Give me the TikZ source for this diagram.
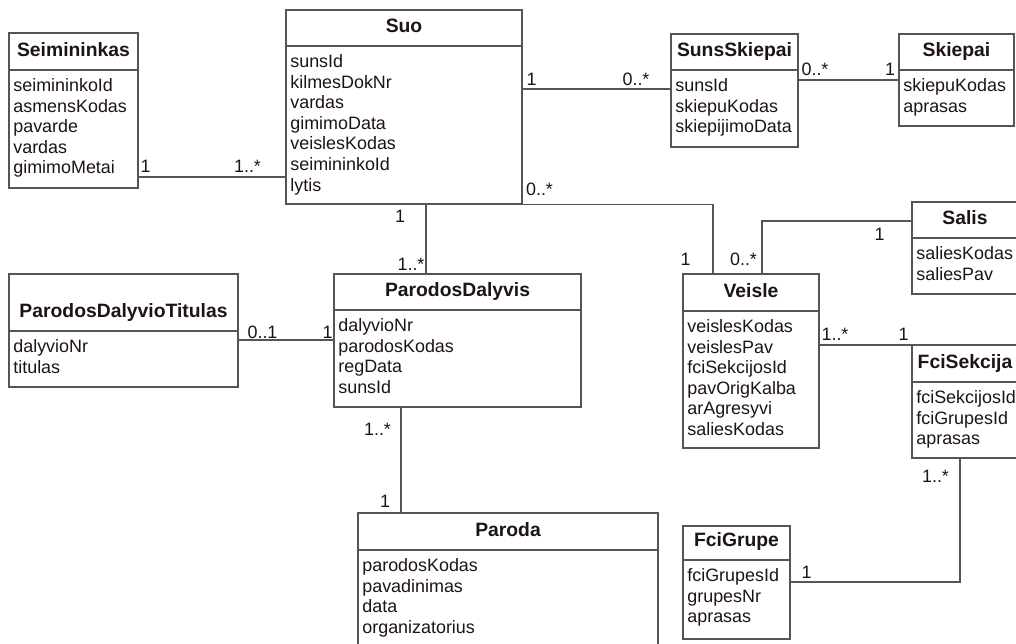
\documentclass[tikz,border=0pt]{standalone}
\usepackage{fontspec}
\setmainfont{Liberation Sans}
\usepackage{tikz}
\usetikzlibrary{fit}
\definecolor{umlline}{RGB}{85,85,85}
\definecolor{umltext}{RGB}{30,20,20}
\tikzset{
  classbox/.style={rectangle, draw=umlline, line width=0.8pt, inner sep=0pt},
  conn/.style={draw=umlline, line width=0.8pt},
  ttl/.style={anchor=base, inner sep=0pt, text=umltext,
              font=\fontsize{11}{12}\selectfont\bfseries},
  attr/.style={anchor=base west, inner sep=0pt, text=umltext,
               font=\fontsize{10.2}{12}\selectfont},
  mult/.style={anchor=base, inner sep=0pt, text=umltext,
               font=\fontsize{10.2}{12}\selectfont},
}
% class: name, left, top, right, divider, bottom, title, attributes
\newcommand{\umlclass}[8]{
  \node[classbox, fit={(#2,#3) (#4,#6)}] (#1) {};
  \draw[conn] (#2,#5) -- (#4,#5);
  \node[ttl] (#1-title) at ({(#2+#4)/2},{#5-14}) {#7};
  \foreach \a [count=\i] in {#8}
    \node[attr] (#1-a\i) at ({#2+4},{#5+21.5+20.6*(\i-1)}) {\a};
}

\begin{document}
\begin{tikzpicture}[x=0.02cm, y=-0.02cm]
    \useasboundingbox (0,0) rectangle (1016,643);
    \clip (0,0) rectangle (1016,643);
    \fill[white] (0,0) rectangle (1016,643);

    % classes
    \umlclass{seim}{9}{33}{138}{70}{188}{Seimininkas}
      {seimininkoId, asmensKodas, pavarde, vardas, gimimoMetai}
    \umlclass{suo}{286}{10}{522}{46}{204}{Suo}
      {sunsId, kilmesDokNr, vardas, gimimoData, veislesKodas, seimininkoId, lytis}
    \umlclass{sunsskiepai}{671}{34}{798}{70}{147}{SunsSkiepai}
      {sunsId, skiepuKodas, skiepijimoData}
    \umlclass{skiepai}{899}{34}{1014}{70}{126}{Skiepai}
      {skiepuKodas, aprasas}
    \umlclass{salis}{912}{202}{1018}{238}{294}{Salis}
      {saliesKodas, saliesPav}
    \umlclass{veisle}{683}{274}{819}{311}{448}{Veisle}
      {veislesKodas, veislesPav, fciSekcijosId, pavOrigKalba, arAgresyvi, saliesKodas}
    \umlclass{fcisekcija}{912}{345}{1018}{382}{458}{FciSekcija}
      {fciSekcijosId, fciGrupesId, aprasas}
    \umlclass{fcigrupe}{683}{526}{790}{560}{639}{FciGrupe}
      {fciGrupesId, grupesNr, aprasas}
    \umlclass{titulas}{9}{274}{238}{331}{387}{ParodosDalyvioTitulas}
      {dalyvioNr, titulas}
    \umlclass{dalyvis}{334}{274}{581}{310}{407}{ParodosDalyvis}
      {dalyvioNr, parodosKodas, regData, sunsId}
    \umlclass{paroda}{358}{513}{658}{550}{660}{Paroda}
      {parodosKodas, pavadinimas, data, organizatorius}

    % associations
    \draw[conn] (seim.east |- 0,177) -- (suo.west |- 0,177);
    \draw[conn] (suo.east |- 0,89) -- (sunsskiepai.west |- 0,89);
    \draw[conn] (sunsskiepai.east |- 0,80) -- (skiepai.west |- 0,80);
    \draw[conn] (suo.south east) -| (veisle.north -| 713,0);
    \draw[conn] (veisle.north -| 762,0) |- (salis.west |- 0,221);
    \draw[conn] (suo.south -| 426,0) -- (dalyvis.north -| 426,0);
    \draw[conn] (titulas.east |- 0,340) -- (dalyvis.west |- 0,340);
    \draw[conn] (dalyvis.south -| 401,0) -- (paroda.north -| 401,0);
    \draw[conn] (veisle.east |- 0,345) -- (fcisekcija.west |- 0,345);
    \draw[conn] (fcisekcija.south -| 960,0) |- (fcigrupe.east |- 0,582);

    % multiplicities
    \foreach \x/\y/\t [count=\k] in {
        145.5/172/1, 247.5/172/1..*,
        531.5/85/1, 636/85/0..*,
        815/75/0..*, 890/75/1,
        539.5/195/0..*, 685.5/265/1,
        743.5/265/0..*, 879.5/240/1,
        400/222/1, 411/270/1..*,
        262.5/338/0..1, 327.5/338/1,
        377.5/435/1..*, 385/507/1,
        835/340/1..*, 903.5/340/1,
        935.5/482/1..*, 806.5/578/1}
      \node[mult] (mult\k) at (\x,\y) {\t};
\end{tikzpicture}
\end{document}
